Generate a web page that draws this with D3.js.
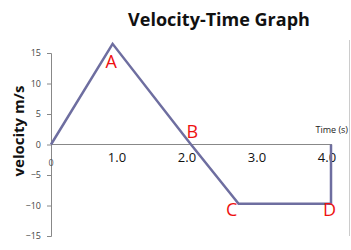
<!DOCTYPE html>
<html>
<head>
<meta charset="utf-8">
<script src="https://cdn.jsdelivr.net/npm/d3@7"></script>
<style>
  body { margin: 0; background: #fff; }
  text { font-family: "Open Sans", "Liberation Sans", sans-serif; }
</style>
</head>
<body>
<div id="chart"></div>
<script>
// data
var times      = [0, 0.88, 2.0, 2.68, 4.0, 4.0];
var velocities = [0, 16.5, 0, -9.7, -9.7, 0];
var pointNames = ["A", "B", "C", "D"];
var pointTimes = [0.86, 2.02, 2.58, 3.98];
var pointVels  = [12.5, 1.0, -11.7, -11.8];
var yTicks = [-15, -10, -5, 0, 5, 10, 15];
var xTicks = [1, 2, 3, 4];
var xTickLabels = ["1.0", "2.0", "3.0", "4.0"];

var width = 351, height = 250;

var svg = d3.select("div#chart")
    .append("svg")
    .attr("width", width)
    .attr("height", height);

// scales
var xScale = d3.scaleLinear().domain([0, 4]).range([51, 331]);
var yScale = d3.scaleLinear().domain([-15, 15]).range([236, 53]);

// y axis
var yAxis = d3.axisLeft(yScale).tickValues(yTicks).tickSize(4).tickPadding(6);
var gy = svg.append("g")
    .attr("transform", "translate(" + xScale(0) + ",0)")
    .call(yAxis);
gy.select(".domain").attr("stroke", "#888");
gy.selectAll(".tick line").attr("stroke", "#888");
gy.selectAll(".tick text")
    .attr("fill", "#444")
    .attr("font-size", "9px");

// x axis along v = 0
svg.append("line")
    .attr("x1", xScale(0)).attr("x2", xScale(4) + 1)
    .attr("y1", yScale(0)).attr("y2", yScale(0))
    .attr("stroke", "#888")
    .attr("stroke-width", 1);

svg.selectAll(".xlab")
    .data(xTicks)
    .enter().append("text")
    .attr("class", "xlab")
    .attr("x", function(d) { return xScale(d) - 4; })
    .attr("y", yScale(0) + 17)
    .attr("text-anchor", "middle")
    .attr("font-size", "13px")
    .attr("fill", "#111")
    .text(function(d, i) { return xTickLabels[i]; });

svg.append("text")
    .attr("x", xScale(0))
    .attr("y", yScale(0) + 21)
    .attr("text-anchor", "middle")
    .attr("font-size", "9px")
    .attr("fill", "#555")
    .text("0");

// right border line
svg.append("line")
    .attr("x1", 349.5).attr("x2", 349.5)
    .attr("y1", 40).attr("y2", 236)
    .attr("stroke", "#ccc");

// velocity line
var line = d3.line()
    .x(function(d, i) { return xScale(times[i]); })
    .y(function(d) { return yScale(d); });

svg.append("path")
    .datum(velocities)
    .attr("d", line)
    .attr("fill", "none")
    .attr("stroke", "#6e6ea0")
    .attr("stroke-width", 2.5)
    .attr("stroke-linejoin", "miter");

// point labels
svg.selectAll(".pt")
    .data(pointNames)
    .enter().append("text")
    .attr("class", "pt")
    .attr("x", function(d, i) { return xScale(pointTimes[i]); })
    .attr("y", function(d, i) { return yScale(pointVels[i]); })
    .attr("text-anchor", "middle")
    .attr("font-family", "Liberation Sans, sans-serif")
    .attr("font-size", "18px")
    .attr("fill", "#ee1111")
    .text(function(d) { return d; });

// titles
svg.append("text")
    .attr("x", 219)
    .attr("y", 26)
    .attr("text-anchor", "middle")
    .attr("font-size", "18px")
    .attr("font-weight", "bold")
    .attr("fill", "#111")
    .text("Velocity-Time Graph");

svg.append("text")
    .attr("transform", "translate(24,131) rotate(-90)")
    .attr("text-anchor", "middle")
    .attr("font-size", "15px")
    .attr("font-weight", "bold")
    .attr("fill", "#111")
    .text("velocity m/s");

svg.append("text")
    .attr("x", 348)
    .attr("y", 133)
    .attr("text-anchor", "end")
    .attr("font-size", "9px")
    .attr("fill", "#222")
    .text("Time (s)");
</script>
</body>
</html>
